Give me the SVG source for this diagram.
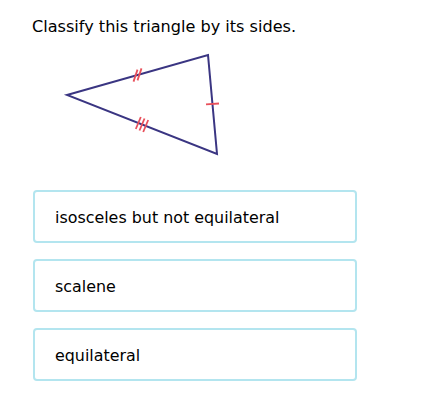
<svg xmlns="http://www.w3.org/2000/svg" width="434" height="409" viewBox="0 0 434 409">
<style>
.t{font-family:"DejaVu Sans",Verdana,sans-serif;fill:#000}
.box{fill:#fff;stroke:#b3e5ef;stroke-width:2}
.tick{stroke:#e8505b;stroke-width:1.8;fill:none}
.tri{stroke:#3a3582;stroke-width:2;fill:none;stroke-linejoin:miter}
</style>
<rect width="434" height="409" fill="#fff"/>
<text class="t" x="32" y="32" font-size="16.1">Classify this triangle by its sides.</text>
<g id="triangle">
<polygon class="tri" points="67,95 208,55 217,154"/>
<line class="tick" x1="133.5" y1="81.6" x2="137.5" y2="69.6"/>
<line class="tick" x1="137.5" y1="80.4" x2="141.5" y2="68.4"/>
<line class="tick" x1="206" y1="104.3" x2="219" y2="103.5"/>
<line class="tick" x1="135.8" y1="129" x2="140.8" y2="117"/>
<line class="tick" x1="139.5" y1="130.5" x2="144.5" y2="118.5"/>
<line class="tick" x1="143.2" y1="132" x2="148.2" y2="120"/>
</g>
<g id="opt1">
<rect class="box" x="34" y="191" width="322" height="51" rx="3"/>
<text class="t" x="55" y="222.5" font-size="15.9">isosceles but not equilateral</text>
</g>
<g id="opt2">
<rect class="box" x="34" y="260" width="322" height="51" rx="3"/>
<text class="t" x="55" y="291.5" font-size="15.9">scalene</text>
</g>
<g id="opt3">
<rect class="box" x="34" y="329" width="322" height="51" rx="3"/>
<text class="t" x="55" y="360.5" font-size="15.9">equilateral</text>
</g>
</svg>
